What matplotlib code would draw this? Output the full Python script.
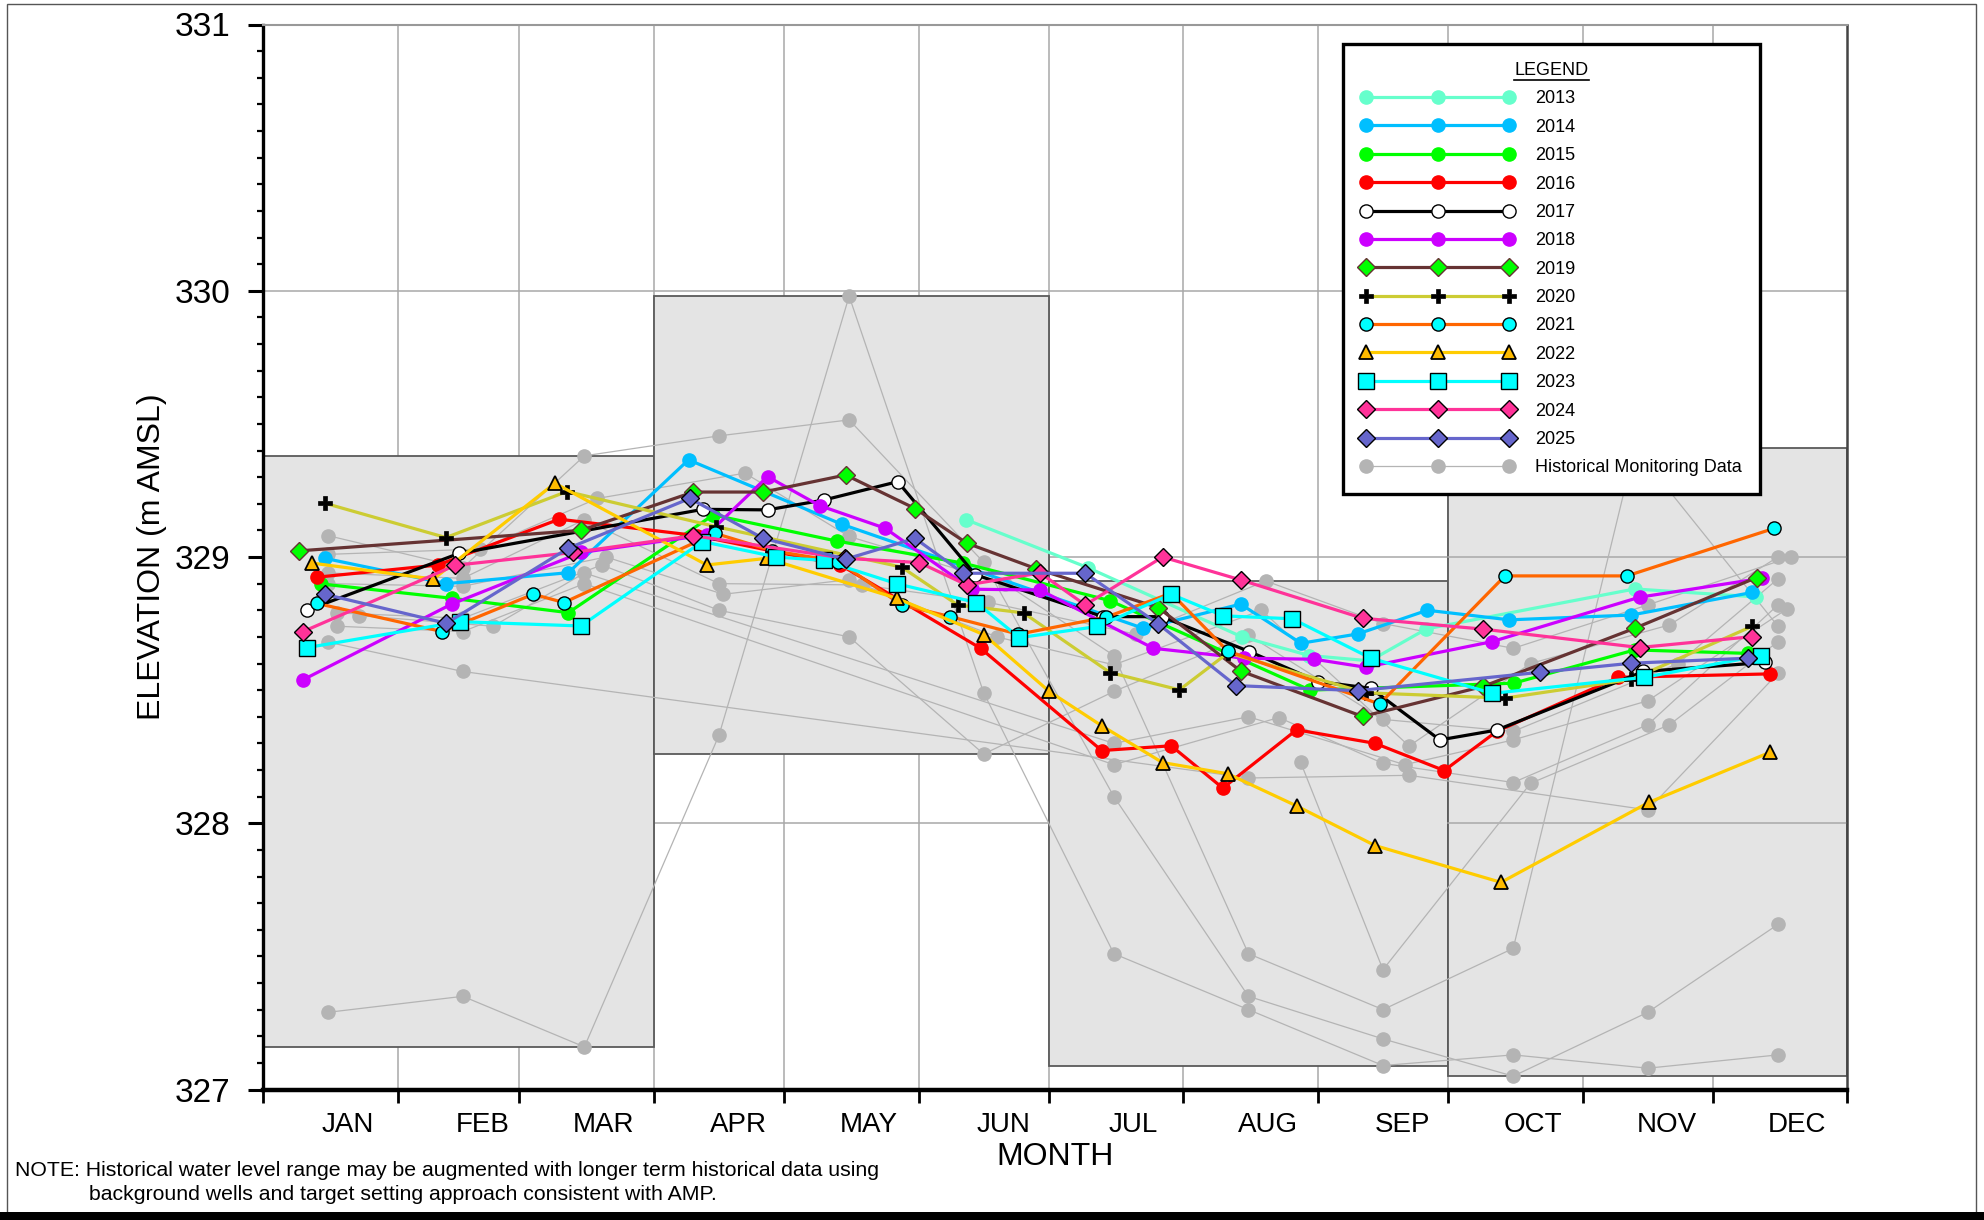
import matplotlib
matplotlib.use("Agg")
import matplotlib.pyplot as plt
from matplotlib.patches import Rectangle
from matplotlib.lines import Line2D

plt.rcParams['font.family'] = ['Liberation Sans', 'DejaVu Sans']

# ---------------- data ----------------
month_names = ['JAN', 'FEB', 'MAR', 'APR', 'MAY', 'JUN', 'JUL', 'AUG', 'SEP', 'OCT', 'NOV', 'DEC']
month_starts = [0, 31, 59, 90, 120, 151, 181, 212, 243, 273, 304, 334, 365]
y_ticks = [327, 328, 329, 330, 331]

days_2013 = [162, 190, 225.5, 241, 255, 268, 316, 344]
elev_2013 = [329.14, 328.96, 328.70, 328.63, 328.61, 328.73, 328.88, 328.85]

days_2014 = [14.2, 42.2, 70.3, 98, 133.3, 202.8, 225.2, 239.1, 252.2, 268.2, 287.1, 315.2, 343.1]
elev_2014 = [328.995, 328.90, 328.941, 329.365, 329.123, 328.732, 328.823, 328.676, 328.711, 328.80, 328.764, 328.782, 328.867]

days_2015 = [13.3, 43.4, 70.3, 103.7, 132.1, 161.3, 195.1, 241.2, 288.1, 316, 342.1]
elev_2015 = [328.899, 328.845, 328.791, 329.158, 329.06, 328.977, 328.836, 328.50, 328.526, 328.651, 328.638]

days_2016 = [12.3, 40.3, 68.2, 100, 133, 165.3, 193.2, 209.2, 221.1, 238.1, 256.2, 272.1, 284.2, 312.2, 347.2]
elev_2016 = [328.924, 328.97, 329.142, 329.08, 328.97, 328.657, 328.273, 328.291, 328.132, 328.351, 328.30, 328.198, 328.345, 328.548, 328.561]

days_2017 = [10.2, 45.2, 101.3, 116.2, 129.2, 146.2, 164.1, 193.5, 207, 227.2, 243.1, 255.2, 271.1, 284.2, 318, 346]
elev_2017 = [328.801, 329.014, 329.179, 329.177, 329.214, 329.283, 328.933, 328.776, 328.776, 328.645, 328.532, 328.507, 328.313, 328.35, 328.57, 328.604]

days_2018 = [9.2, 43.4, 73.3, 102.2, 116.2, 128.2, 143.3, 163.2, 179, 205.1, 226, 242.2, 254, 283.1, 317.1, 345.3]
elev_2018 = [328.539, 328.823, 329.017, 329.083, 329.302, 329.193, 329.108, 328.879, 328.876, 328.657, 328.62, 328.616, 328.586, 328.682, 328.849, 328.92]

days_2019 = [8.2, 73.2, 99.1, 115.2, 134.2, 150.2, 162.1, 178.1, 206.2, 225.2, 253.3, 281.1, 316.1, 344.1]
elev_2019 = [329.023, 329.10, 329.244, 329.244, 329.308, 329.182, 329.052, 328.956, 328.81, 328.572, 328.401, 328.514, 328.733, 328.923]

days_2020 = [14.2, 42.1, 70.0, 104.3, 147.1, 160.0, 175.2, 195.1, 211.1, 222.3, 254, 286.1, 315.2, 343.1]
elev_2020 = [329.202, 329.073, 329.246, 329.114, 328.962, 328.82, 328.79, 328.566, 328.501, 328.64, 328.49, 328.47, 328.54, 328.74]

days_2021 = [12.3, 41.2, 62.2, 69.3, 104.1, 117.2, 132.5, 147.1, 158.3, 174, 194.2, 209.2, 222.2, 257.2, 286.1, 314.2, 348.2]
elev_2021 = [328.826, 328.72, 328.86, 328.829, 329.089, 329.024, 328.983, 328.82, 328.776, 328.71, 328.774, 328.864, 328.647, 328.448, 328.929, 328.929, 329.108]

days_2022 = [11.3, 39.2, 67.2, 102.2, 116, 146, 166.1, 181.1, 193.2, 207.2, 222.2, 238.1, 256.2, 285.2, 319.2, 347.1]
elev_2022 = [328.977, 328.917, 329.277, 328.97, 328.995, 328.845, 328.708, 328.495, 328.366, 328.228, 328.186, 328.065, 327.916, 327.778, 328.078, 328.266]

days_2023 = [10.2, 45.3, 73.2, 101.2, 118.2, 129.2, 146.1, 164.3, 174.2, 192.2, 209.2, 221.2, 237.1, 255.2, 283.2, 318.2, 345.1]
elev_2023 = [328.66, 328.757, 328.741, 329.058, 329.0, 328.987, 328.899, 328.829, 328.697, 328.739, 328.86, 328.779, 328.768, 328.62, 328.488, 328.548, 328.63]

days_2024 = [9.2, 44.3, 71.4, 99.1, 134.1, 151.2, 162.1, 179, 189.4, 207.2, 225.2, 253.3, 281.1, 317.1, 343.1]
elev_2024 = [328.72, 328.969, 329.017, 329.08, 328.995, 328.979, 328.895, 328.94, 328.82, 329.0, 328.914, 328.77, 328.729, 328.66, 328.701]

days_2025 = [14.2, 42.2, 70.3, 98.3, 115.2, 134.2, 150.2, 161.3, 189.4, 206.2, 224.1, 252.2, 294.2, 315.2, 342.2]
elev_2025 = [328.86, 328.751, 329.033, 329.22, 329.07, 328.992, 329.07, 328.939, 328.939, 328.749, 328.517, 328.498, 328.567, 328.601, 328.62]

hist_a_days = [15, 46, 74, 105, 135, 166, 196, 227, 258, 288, 319, 349]
hist_a_elev = [327.29, 327.35, 327.16, 328.33, 329.98, 328.49, 327.51, 327.30, 327.09, 327.13, 327.08, 327.13]
hist_b_days = [15, 46, 74, 105, 135, 166, 196, 227, 258, 288, 319, 349]
hist_b_elev = [329.08, 328.96, 329.38, 329.455, 329.515, 328.98, 328.10, 327.35, 327.19, 327.05, 327.29, 327.62]
hist_c_days = [15, 50, 77, 111, 135, 171, 196, 227, 258, 288, 316, 349]
hist_c_elev = [329.01, 329.03, 329.22, 329.315, 329.077, 328.90, 328.63, 327.51, 327.30, 327.53, 329.41, 328.74]
hist_d_days = [15, 46, 74, 105, 138, 167, 201, 231, 258, 288, 319, 352]
hist_d_elev = [328.94, 328.92, 329.14, 328.90, 328.895, 328.83, 328.71, 328.91, 328.75, 328.657, 328.82, 329.0]
hist_e_days = [15, 46, 79, 106, 135, 169, 196, 230, 264, 292, 324, 349]
hist_e_elev = [328.90, 328.89, 329.0, 328.86, 328.915, 328.70, 328.595, 328.80, 328.29, 328.60, 328.745, 329.0]
hist_f_days = [17, 46, 78, 105, 135, 166, 196, 227, 258, 288, 326, 349]
hist_f_elev = [328.79, 328.77, 328.97, 328.80, 328.70, 328.26, 328.495, 328.707, 328.39, 328.345, 328.60, 328.918]
hist_g_days = [22, 53, 74, 196, 227, 263, 288, 319, 351]
hist_g_elev = [328.78, 328.74, 328.94, 328.30, 328.40, 328.22, 328.313, 328.46, 328.804]
hist_h_days = [17, 46, 74, 196, 234, 258, 288, 319, 349]
hist_h_elev = [328.74, 328.72, 328.90, 328.22, 328.397, 328.225, 328.153, 328.37, 328.82]
hist_i_days = [15, 46, 227, 264, 319, 349]
hist_i_elev = [328.68, 328.57, 328.17, 328.18, 328.05, 328.563]
hist_j_days = [239, 258, 292, 324, 349]
hist_j_elev = [328.23, 327.45, 328.15, 328.37, 328.682]

# ---------------- styles ----------------
LW = 2.3
CMS = 9.5   # circle marker size
DMS = 9.0   # diamond marker size
styles = {
    '2013': dict(color='#66FFCC', lw=LW, marker='o', ms=CMS, mfc='#66FFCC', mec='#66FFCC'),
    '2014': dict(color='#00BFFF', lw=LW, marker='o', ms=CMS, mfc='#00BFFF', mec='#00BFFF'),
    '2015': dict(color='#00FF00', lw=LW, marker='o', ms=CMS, mfc='#00FF00', mec='#00FF00'),
    '2016': dict(color='#FF0000', lw=LW, marker='o', ms=CMS, mfc='#FF0000', mec='#FF0000'),
    '2017': dict(color='#000000', lw=LW, marker='o', ms=CMS, mfc='white', mec='black', mew=1.0),
    '2018': dict(color='#CC00FF', lw=LW, marker='o', ms=CMS, mfc='#CC00FF', mec='#CC00FF'),
    '2019': dict(color='#663333', lw=LW, marker='D', ms=DMS, mfc='#00FF00', mec='#663333', mew=1.0),
    '2020': dict(color='#CCCC33', lw=LW, marker='P', ms=10, mfc='black', mec='black', mew=0.5),
    '2021': dict(color='#FF6600', lw=LW, marker='o', ms=CMS, mfc='#00FFFF', mec='black', mew=1.0),
    '2022': dict(color='#FFCC00', lw=LW, marker='^', ms=10.5, mfc='#FFBB00', mec='black', mew=1.3),
    '2023': dict(color='#00FFFF', lw=LW, marker='s', ms=11, mfc='#00FFFF', mec='black', mew=1.0),
    '2024': dict(color='#FF3399', lw=LW, marker='D', ms=DMS, mfc='#FF3399', mec='black', mew=1.0),
    '2025': dict(color='#6666CC', lw=LW, marker='D', ms=DMS, mfc='#6666CC', mec='black', mew=1.0),
}
hist_style = dict(color='#B4B4B4', lw=0.9, marker='o', ms=9.5, mfc='#B4B4B4', mec='#B4B4B4')

series = [
    ('2013', days_2013, elev_2013), ('2014', days_2014, elev_2014),
    ('2015', days_2015, elev_2015), ('2016', days_2016, elev_2016),
    ('2017', days_2017, elev_2017), ('2018', days_2018, elev_2018),
    ('2019', days_2019, elev_2019), ('2020', days_2020, elev_2020),
    ('2021', days_2021, elev_2021), ('2022', days_2022, elev_2022),
    ('2023', days_2023, elev_2023), ('2024', days_2024, elev_2024),
    ('2025', days_2025, elev_2025),
]
hist = [
    (hist_a_days, hist_a_elev), (hist_b_days, hist_b_elev), (hist_c_days, hist_c_elev),
    (hist_d_days, hist_d_elev), (hist_e_days, hist_e_elev), (hist_f_days, hist_f_elev),
    (hist_g_days, hist_g_elev), (hist_h_days, hist_h_elev), (hist_i_days, hist_i_elev),
    (hist_j_days, hist_j_elev),
]

# ---------------- figure ----------------
W, H = 1984, 1220
fig = plt.figure(figsize=(W / 100, H / 100), dpi=100)
fig.patch.set_facecolor('white')


def fx(px):
    return px / W


def fy(py):
    return 1 - py / H


ax = fig.add_axes([fx(263.2), fy(1089.5), (1847.4 - 263.2) / W, (1089.5 - 24.5) / H])
ax.set_xlim(0, 365)
ax.set_ylim(327, 331)

# grid
for d in month_starts[1:-1]:
    ax.axvline(d, color='#A8A8A8', lw=1.1, zorder=1)
for v in y_ticks[1:-1]:
    ax.axhline(v, color='#A8A8A8', lw=1.1, zorder=1)

# quarterly historical range boxes
all_hd = [d for ds, _ in hist for d in ds]
all_hv = [v for _, vs in hist for v in vs]
quarters = [(0, 90), (90, 181), (181, 273), (273, 365)]
for qi, (q0, q1) in enumerate(quarters):
    vals = [v for d, v in zip(all_hd, all_hv) if q0 <= d < q1]
    lo, hi = min(vals), max(vals)
    ax.add_patch(Rectangle((q0, lo), q1 - q0, hi - lo, facecolor='#E4E4E4',
                           edgecolor='#5A5A5A', lw=1.3, zorder=1.5))
    if qi == 3:
        for v in (328, 329):
            ax.plot([q0, q1], [v, v], color='#A8A8A8', lw=1.1, zorder=1.6)

# historical data
for ds, vs in hist:
    ax.plot(ds, vs, zorder=2, **hist_style)

# yearly series
for i, (name, ds, vs) in enumerate(series):
    ax.plot(ds, vs, zorder=3 + i * 0.1, **styles[name])

# axes styling
ax.set_xticks(month_starts)
ax.set_xticklabels([])
ax.set_xticks([m + 19.5 for m in month_starts[:-1]], minor=True)
ax.set_xticklabels(month_names, minor=True, fontsize=20)
ax.tick_params(axis='x', which='major', direction='out', length=9.5, width=2.0, color='black')
ax.tick_params(axis='x', which='minor', length=0, pad=16)
ax.set_yticks(y_ticks)
ax.set_yticklabels([str(v) for v in y_ticks], fontsize=24)
ax.set_yticks([327 + k * 0.1 for k in range(41)], minor=True)
ax.tick_params(axis='y', which='major', direction='out', length=10.5, width=2.2, pad=13)
ax.tick_params(axis='y', which='minor', direction='out', length=4.5, width=1.6)
ax.tick_params(right=False, top=False)
ax.spines['left'].set_linewidth(2.4)
ax.spines['bottom'].set_linewidth(3.2)
ax.spines['top'].set_color('#999999')
ax.spines['top'].set_linewidth(1.5)
ax.spines['right'].set_color('#444444')
ax.spines['right'].set_linewidth(1.8)
ax.set_facecolor('white')

fig.text(fx(152), fy(557), 'ELEVATION (m AMSL)', rotation=90, fontsize=23,
         ha='center', va='center')
fig.text(fx(1055), fy(1157), 'MONTH', fontsize=23, ha='center', va='center')
fig.text(fx(15), fy(1171), 'NOTE: Historical water level range may be augmented with longer term historical data using',
         fontsize=15.3, ha='left', va='center')
fig.text(fx(89), fy(1195), 'background wells and target setting approach consistent with AMP.',
         fontsize=15.3, ha='left', va='center')

# legend
handles = [Line2D([], [], **styles[name]) for name, _, _ in series]
labels = [name for name, _, _ in series]
handles.append(Line2D([], [], **hist_style))
labels.append('Historical Monitoring Data')
leg = ax.legend(handles, labels, loc='upper left', bbox_to_anchor=(fx(1343), fy(44)),
                bbox_transform=fig.transFigure, numpoints=3, handlelength=8.5,
                handletextpad=1.15, labelspacing=0.63, fontsize=13, title='LEGEND',
                title_fontsize=13, frameon=True, fancybox=False, borderpad=1.0,
                borderaxespad=0, framealpha=1.0)
leg.get_frame().set_edgecolor('black')
leg.get_frame().set_facecolor('white')
leg.get_frame().set_linewidth(2.4)
leg.set_zorder(20)

# figure frame
fig.add_artist(Rectangle((fx(7), fy(1213)), fx(1976) - fx(7), fy(4) - fy(1213),
                         transform=fig.transFigure, fill=False, edgecolor='#555555', lw=1.0))
fig.add_artist(Rectangle((0, 0), 1, fy(1212), transform=fig.transFigure,
                         facecolor='black', edgecolor='none'))

# underline legend title
fig.canvas.draw()
tb = leg.get_title().get_window_extent(fig.canvas.get_renderer())
fig.add_artist(Line2D([tb.x0 / W, tb.x1 / W], [(tb.y0 - 1) / H, (tb.y0 - 1) / H],
                      transform=fig.transFigure, color='black', lw=1.2, zorder=30))

fig.savefig('out.png', dpi=100)
